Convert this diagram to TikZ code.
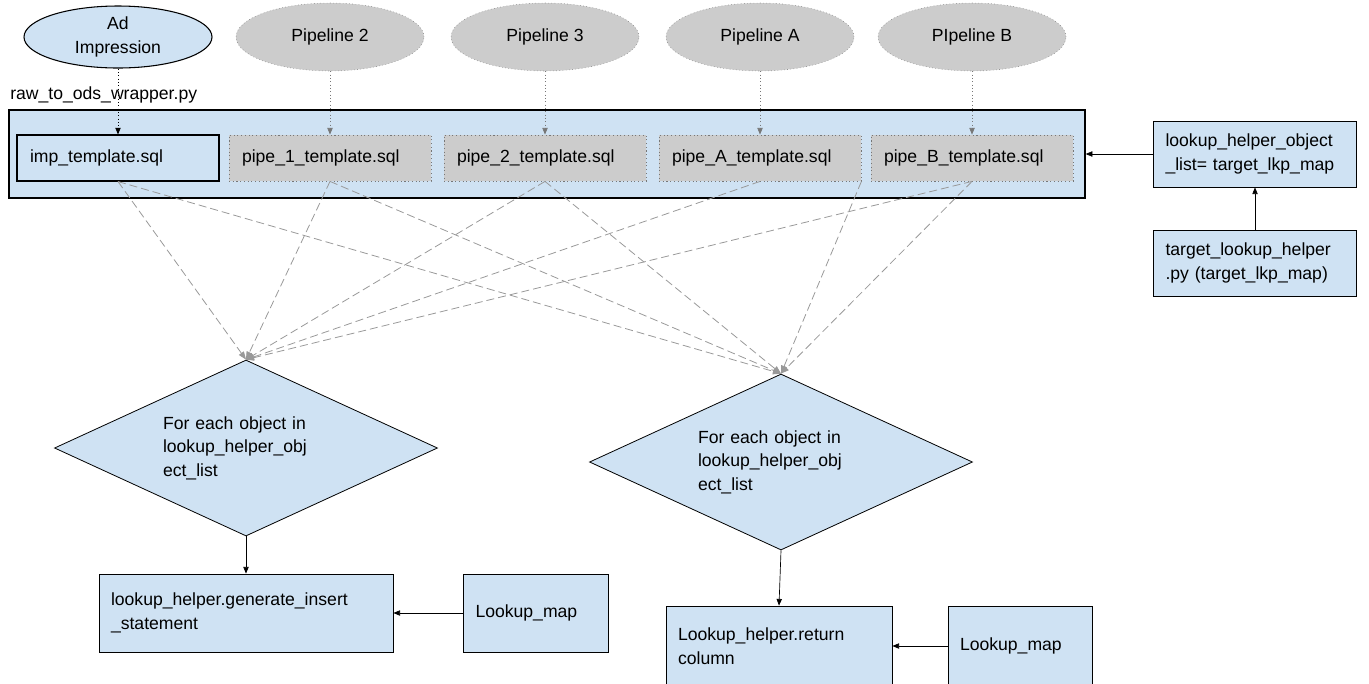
\documentclass[tikz,border=0pt]{standalone}
\usepackage{fontspec}
\setmainfont{Liberation Sans}
\usepackage{xcolor}
\usepackage{tikz}
\usetikzlibrary{arrows.meta, positioning, shapes.geometric}
\definecolor{BoxBlue}{HTML}{CFE2F3}
\definecolor{PipeGray}{HTML}{CCCCCC}
\definecolor{DotGray}{HTML}{777777}
\definecolor{LineGray}{HTML}{999999}
\newdimen\px
\px=0.75pt

\begin{document}
\begin{tikzpicture}[
    x=0.75pt, y=-0.75pt,
    every node/.style={font=\fontsize{13.2}{17.6}\selectfont},
    src/.style={ellipse, draw=black, line width=0.8pt, fill=BoxBlue, minimum width=188\px, minimum height=62\px, inner sep=0pt, align=center},
    pipe/.style={ellipse, draw=DotGray, dotted, fill=PipeGray, minimum width=188\px, minimum height=68\px, inner sep=0pt},
    tmpl/.style={rectangle, draw=black, line width=0.8pt, fill=BoxBlue, minimum height=46\px, text width=176\px, inner xsep=13\px, align=left},
    ptmpl/.style={tmpl, draw=DotGray, dotted, fill=PipeGray, line width=0.6pt},
    plainbox/.style={rectangle, draw=black, line width=0.6pt, fill=BoxBlue, inner xsep=12\px, align=left},
    iterbox/.style={diamond, aspect=2.18, draw=black, line width=0.6pt, fill=BoxBlue, minimum width=383\px, minimum height=176\px, inner sep=0pt, text width=166\px, align=left},
    link/.style={-{Triangle[length=5pt, width=4pt]}, black, line width=0.5pt},
    srclink/.style={link, dotted},
    pipelink/.style={-{Triangle[length=5pt, width=4pt]}, DotGray, dotted, line width=0.5pt},
    feed/.style={-{Triangle[length=6pt, width=4.5pt]}, LineGray, dash pattern=on 6pt off 3pt, line width=0.6pt}
]
\useasboundingbox (0,0) rectangle (1369,683);

% --- sources ---
\node[src] (adimp) at (118,37) {Ad\\Impression};
\node[pipe] (p2) at (330,37) {Pipeline 2};
\node[pipe] (p3) at (545,37) {Pipeline 3};
\node[pipe] (pa) at (760,37) {Pipeline A};
\node[pipe] (pb) at (972,37) {PIpeline B};
\node[anchor=west, inner sep=0pt] (wrapname) at (10,95) {raw\_to\_ods\_wrapper.py};

% --- wrapper with the templates ---
\node[draw=black, line width=1pt, fill=BoxBlue, minimum width=1076\px, minimum height=88\px] (wrapper) at (547,154) {};
\node[tmpl] (imp) at (118,158) {imp\_template.sql};
\node[ptmpl] (pipe1) at (330,158) {pipe\_1\_template.sql};
\node[ptmpl] (pipe2) at (545,158) {pipe\_2\_template.sql};
\node[ptmpl] (pipeA) at (760,158) {pipe\_A\_template.sql};
\node[ptmpl] (pipeB) at (972,158) {pipe\_B\_template.sql};

% --- helper list on the right ---
\node[plainbox, text width=179\px, minimum height=66\px] (objlist) at (1255,154) {lookup\_helper\_object\\\_list= target\_lkp\_map};
\node[plainbox, text width=179\px, minimum height=66\px] (tlh) at (1255,263) {target\_lookup\_helper\\.py (target\_lkp\_map)};

% --- loops ---
\node[iterbox] (iterA) at (246,448) {For each object in\\lookup\_helper\_obj\\ect\_list};
\node[iterbox] (iterB) at (781,462) {For each object in\\lookup\_helper\_obj\\ect\_list};

% --- bottom boxes ---
\node[plainbox, text width=270\px, minimum height=78\px] (geninsert) at (246,613) {lookup\_helper.generate\_insert\\\_statement};
\node[plainbox, text width=121\px, minimum height=78\px] (mapA) at (536,613) {Lookup\_map};
\node[plainbox, text width=202\px, minimum height=80\px] (retcol) at (779,646) {Lookup\_helper.return\\column};
\node[plainbox, text width=120\px, minimum height=80\px] (mapB) at (1020,646) {Lookup\_map};

% --- connectors ---
\draw[srclink] (adimp) -- (imp);
\draw[pipelink] (p2) -- (pipe1);
\draw[pipelink] (p3) -- (pipe2);
\draw[pipelink] (pa) -- (pipeA);
\draw[pipelink] (pb) -- (pipeB);

\draw[link] (tlh) -- (objlist);
\draw[link] (objlist.west) -- (objlist.west -| wrapper.east);

\draw[feed] (imp.south) -- (iterA.north);
\draw[feed] (imp.south) -- (iterB.north);
\draw[feed] (pipe1.south) -- (iterA.north);
\draw[feed] (pipe1.south) -- (iterB.north);
\draw[feed] (pipe2.south) -- (iterA.north);
\draw[feed] (pipe2.south) -- (iterB.north);
\draw[feed] (pipeA.south) -- (iterA.north);
\draw[feed] (pipeA.south east) -- (iterB.north);
\draw[feed] (pipeB.south) -- (iterA.north);
\draw[feed] (pipeB.south) -- (iterB.north);

\draw[link] (iterA.south) -- (geninsert.north);
\draw[link] (iterB.south) -- (retcol.north);
\draw[link] (mapA.west) -- (geninsert.east);
\draw[link] (mapB.west) -- (retcol.east);
\end{tikzpicture}
\end{document}
